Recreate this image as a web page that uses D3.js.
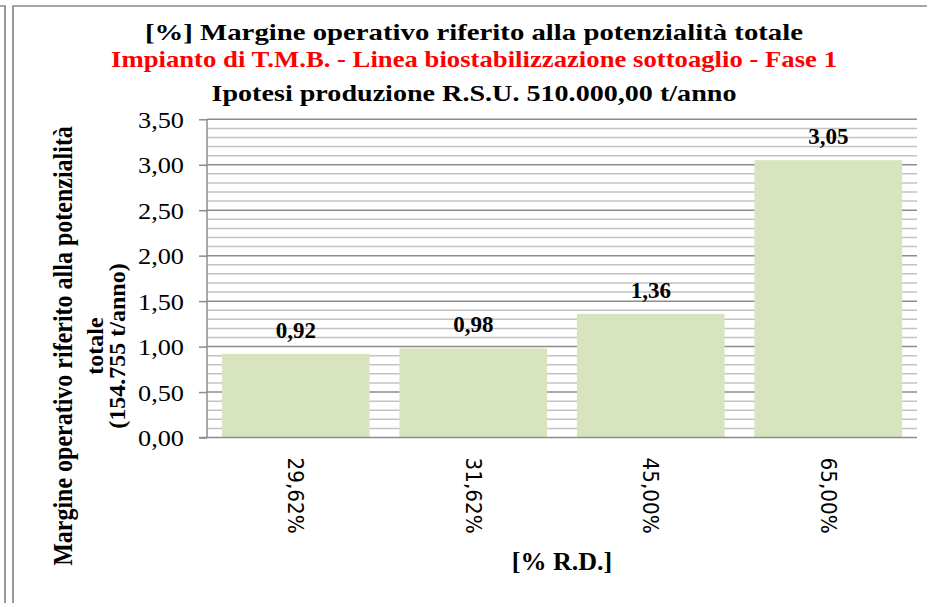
<!DOCTYPE html>
<html>
<head>
<meta charset="utf-8">
<script src="https://cdn.jsdelivr.net/npm/d3@7"></script>
<style>
  body { margin: 0; background: #fff; }
  svg { display: block; }
  .serif { font-family: "Times New Roman", "Liberation Serif", serif; }
</style>
</head>
<body>
<svg width="927" height="603"></svg>
<script>
const categories = ["29,62%", "31,62%", "45,00%", "65,00%"];
const values = [0.92, 0.98, 1.36, 3.05];
const yTicks = [0, 0.5, 1, 1.5, 2, 2.5, 3, 3.5];
const titleLines = [
  "[%] Margine operativo riferito alla potenzialità totale",
  "Impianto di T.M.B. - Linea biostabilizzazione sottoaglio - Fase 1",
  "Ipotesi produzione R.S.U. 510.000,00 t/anno"
];
const yTitleLines = ["Margine operativo riferito alla potenzialità", "totale", "(154.755 t/anno)"];
const xTitle = "[% R.D.]";

const svg = d3.select("svg");
const fmt = v => d3.format(".2f")(v).replace(".", ",");

const plot = { left: 207, right: 917, top: 119.3, bottom: 437.5 };

const x = d3.scaleBand().domain(categories).range([plot.left, plot.right]).paddingInner(0.168).paddingOuter(0.084);
const y = d3.scaleLinear().domain([0, 3.5]).range([plot.bottom, plot.top]);

// frame lines
const frame = svg.append("g").attr("stroke", "#8a8a8a").attr("stroke-width", 1.7).attr("fill", "none");
frame.append("path").attr("d", "M0,6H5V603");
frame.append("path").attr("d", "M927,6H13V603");

// minor + major gridlines
const minor = d3.range(1, 35).map(i => i / 10).filter(v => Math.abs(v * 2 - Math.round(v * 2)) > 1e-6);
svg.append("g").selectAll("line").data(minor).join("line")
  .attr("x1", plot.left).attr("x2", plot.right)
  .attr("y1", d => y(d)).attr("y2", d => y(d))
  .attr("stroke", "#c3c3c3").attr("stroke-width", 1.5);

svg.append("g").selectAll("line").data(yTicks.slice(1)).join("line")
  .attr("x1", plot.left).attr("x2", plot.right)
  .attr("y1", d => y(d)).attr("y2", d => y(d))
  .attr("stroke", "#8c8c8c").attr("stroke-width", 1.5);

// bars
svg.append("g").selectAll("rect").data(values).join("rect")
  .attr("x", (d, i) => x(categories[i]))
  .attr("width", x.bandwidth())
  .attr("y", d => y(d))
  .attr("height", d => y(0) - y(d))
  .attr("fill", "#d7e4bd");

// y axis
const yAxis = svg.append("g")
  .attr("transform", `translate(${plot.left},0)`)
  .call(d3.axisLeft(y).tickValues(yTicks).tickFormat(fmt).tickSize(8).tickPadding(15));
yAxis.select(".domain").attr("stroke", "#8c8c8c").attr("stroke-width", 1.5).attr("d", `M0,${plot.top}V${plot.bottom}`);
yAxis.selectAll(".tick line").attr("stroke", "#8c8c8c").attr("stroke-width", 1.5);
yAxis.selectAll(".tick text")
  .attr("class", "serif").attr("font-size", 23).attr("fill", "#000").attr("dy", "0.35em")
  .attr("textLength", 46).attr("lengthAdjust", "spacingAndGlyphs");

// x axis
const xAxis = svg.append("g")
  .attr("transform", `translate(0,${plot.bottom})`)
  .call(d3.axisBottom(x).tickSize(0).tickPadding(0));
xAxis.select(".domain").attr("stroke", "#8c8c8c").attr("stroke-width", 1.5).attr("d", `M${plot.left - 8},0H${plot.right}`);
xAxis.selectAll(".tick text")
  .attr("font-family", "'DejaVu Sans', Verdana, sans-serif").attr("font-size", 20).attr("fill", "#000")
  .attr("text-anchor", "start")
  .attr("transform", "scale(1.1,1) rotate(90)")
  .attr("x", 20).attr("y", 0).attr("dy", "0.35em");

// value labels
svg.append("g").selectAll("text").data(values).join("text")
  .attr("class", "serif")
  .attr("x", (d, i) => x(categories[i]) + x.bandwidth() / 2)
  .attr("y", d => y(d) - 16)
  .attr("text-anchor", "middle")
  .attr("font-size", 23).attr("font-weight", "bold")
  .text(fmt);

// titles
const titleY = [40, 67, 101];
const titleW = [658, 726, 525];
const titleColors = ["#000", "#ff0000", "#000"];
svg.append("g").selectAll("text").data(titleLines).join("text")
  .attr("class", "serif")
  .attr("x", 474).attr("y", (d, i) => titleY[i])
  .attr("text-anchor", "middle")
  .attr("font-size", 23).attr("font-weight", "bold")
  .attr("fill", (d, i) => titleColors[i])
  .attr("textLength", (d, i) => titleW[i]).attr("lengthAdjust", "spacingAndGlyphs")
  .text(d => d);

// y title
const yTitleX = [72, 103, 125];
const yTitleSx = [1.1, 1, 1];
svg.append("g").selectAll("text").data(yTitleLines).join("text")
  .attr("class", "serif")
  .attr("transform", (d, i) => `translate(${yTitleX[i]},346) scale(${yTitleSx[i]},1) rotate(-90)`)
  .attr("text-anchor", "middle")
  .attr("font-size", 24).attr("font-weight", "bold")
  .text(d => d);

// x title
svg.append("text")
  .attr("class", "serif")
  .attr("x", (plot.left + plot.right) / 2).attr("y", 570)
  .attr("text-anchor", "middle")
  .attr("font-size", 26).attr("font-weight", "bold")
  .text(xTitle);
</script>
</body>
</html>
